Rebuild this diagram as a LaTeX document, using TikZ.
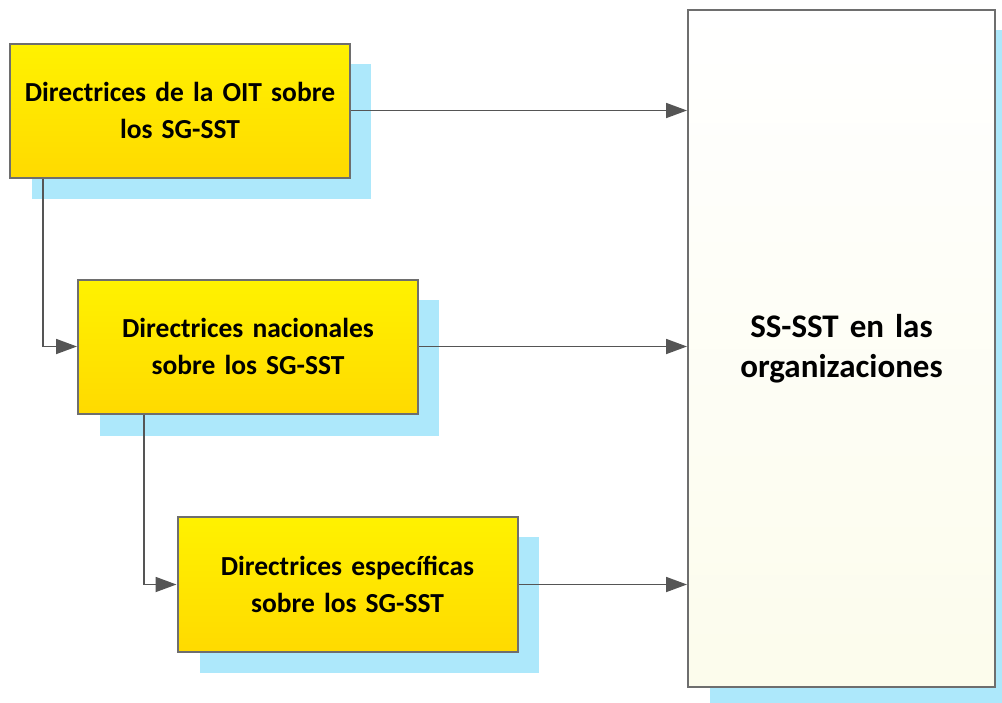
\documentclass[tikz,border=0pt]{standalone}
\usepackage{fontspec}
\setmainfont{Carlito}
\usetikzlibrary{arrows.meta,calc}
\definecolor{shadowcyan}{HTML}{ADE8FB}
\definecolor{ytop}{HTML}{FFF200}
\definecolor{ybot}{HTML}{FFDA00}
\definecolor{edgegray}{HTML}{6E6E6E}
\definecolor{arrowgray}{HTML}{555555}
\definecolor{ivory}{HTML}{FCFCEC}
\begin{document}
\begin{tikzpicture}[x=1pt,y=-1pt,
  ybox/.style={draw=edgegray,line width=2pt,top color=ytop,bottom color=ybot,
    minimum width=340pt,minimum height=134pt,inner sep=0pt,align=center,
    font=\fontsize{27.5}{37}\selectfont\bfseries,text width=330pt},
  bigbox/.style={draw=edgegray,line width=2pt,top color=white,bottom color=ivory,
    minimum width=307pt,minimum height=677pt,inner sep=0pt,align=center,
    font=\fontsize{33}{40}\selectfont\bfseries,text width=300pt},
  conn/.style={draw=arrowgray,line width=1.8pt,-{Triangle[length=21pt,width=15pt]}}]
\useasboundingbox (0,0) rectangle (1002,702);
% shadows
\fill[shadowcyan] (32,64) rectangle (371,199);
\fill[shadowcyan] (100,300) rectangle (439,436);
\fill[shadowcyan] (200,537) rectangle (539,673);
\fill[shadowcyan] (710,30) rectangle (1010,710);
% boxes
\node[ybox] (b1) at (180,110.5) {Directrices de la OIT sobre\\los SG-SST};
\node[ybox] (b2) at (248,346.5) {Directrices nacionales\\sobre los SG-SST};
\node[ybox,minimum height=135pt] (b3) at (347.5,584.5) {Directrices específicas\\sobre los SG-SST};
\node[bigbox] (big) at (841.5,348.5) {SS-SST en las\\organizaciones};
% connectors
\draw[conn] (b1.east) -- (b1.east -| big.west);
\draw[conn] (b2.east) -- (b2.east -| big.west);
\draw[conn] (b3.east) -- (b3.east -| big.west);
\draw[conn] ([xshift=34pt]b1.south west) |- (b2.west);
\draw[conn] ([xshift=67pt]b2.south west) |- (b3.west);
\end{tikzpicture}
\end{document}
